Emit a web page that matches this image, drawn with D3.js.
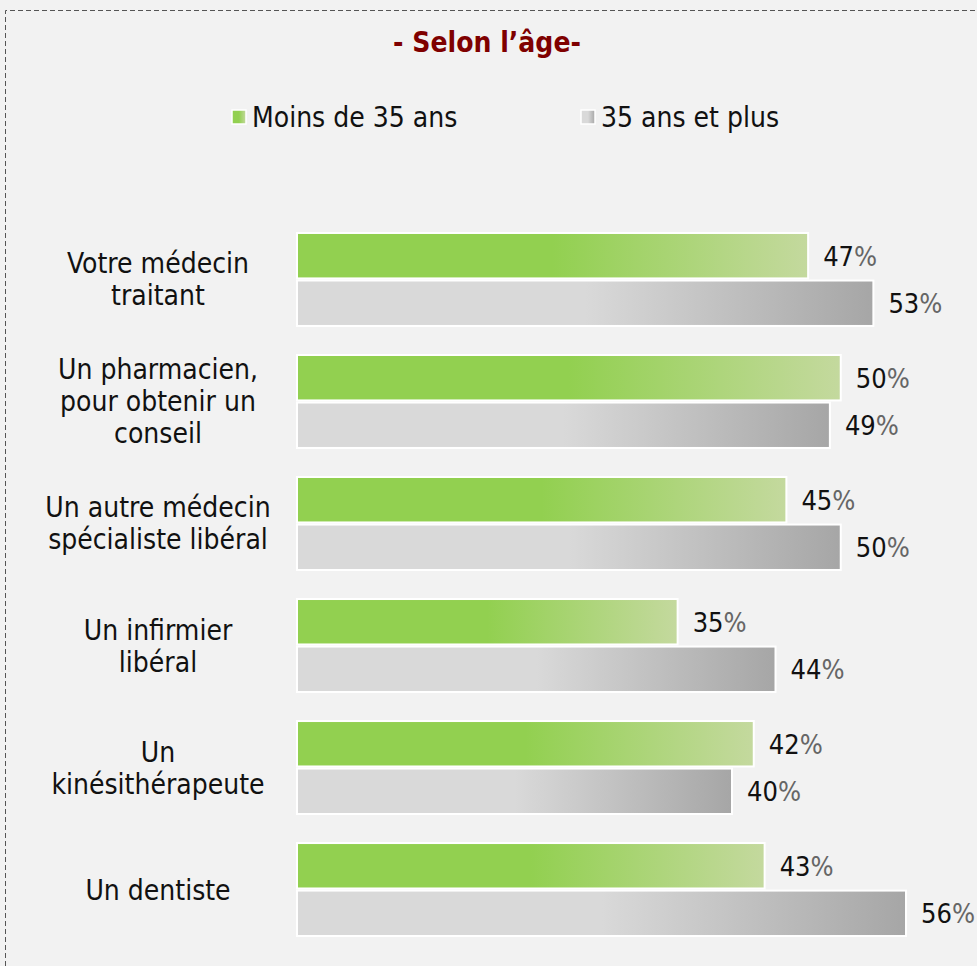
<!DOCTYPE html>
<html><head><meta charset="utf-8">
<script src="https://cdn.jsdelivr.net/npm/d3@7"></script>
<style>body{margin:0;background:#fff;}</style>
</head><body>
<script>
const categories = [
  ["Votre médecin","traitant"],
  ["Un pharmacien,","pour obtenir un","conseil"],
  ["Un autre médecin","spécialiste libéral"],
  ["Un infirmier","libéral"],
  ["Un","kinésithérapeute"],
  ["Un dentiste"]
];
const seriesNames = ["Moins de 35 ans","35 ans et plus"];
const under35 = [47,50,45,35,42,43];
const over35 = [53,49,50,44,40,56];

const W=977,H=966;
const font="'DejaVu Sans Condensed','DejaVu Sans',sans-serif";
const svg=d3.select("body").append("svg").attr("width",W).attr("height",H);
svg.append("rect").attr("width",W).attr("height",H).attr("fill","#f2f2f2");
svg.append("path").attr("d",`M5.5,${H} V10.5 H${W}`).attr("fill","none")
  .attr("stroke","#555").attr("stroke-width",1).attr("stroke-dasharray","5,3");

const defs=svg.append("defs");
function grad(id,c1,c2){
  const g=defs.append("linearGradient").attr("id",id).attr("x1","0").attr("x2","1").attr("y1","0").attr("y2","0");
  g.append("stop").attr("offset","0").attr("stop-color",c1);
  g.append("stop").attr("offset","0.5").attr("stop-color",c1);
  g.append("stop").attr("offset","1").attr("stop-color",c2);
}
grad("gG","#92d050","#c4d99e");
grad("gR","#d9d9d9","#a6a6a6");
const fills=["url(#gG)","url(#gR)"];

svg.append("text").attr("x",487).attr("y",52).attr("text-anchor","middle")
  .attr("font-family",font).attr("font-weight","bold").attr("font-size",28)
  .attr("fill","#7f0000").text("- Selon l’âge-");

// legend
const legX=[232,581];
seriesNames.forEach((n,i)=>{
  svg.append("rect").attr("x",legX[i]).attr("y",110).attr("width",14).attr("height",14)
    .attr("fill",fills[i]).attr("stroke","#fff").attr("stroke-width",1.5);
  svg.append("text").attr("x",legX[i]+20).attr("y",127).attr("font-family",font)
    .attr("font-size",28).attr("fill","#111").text(n);
});

const x=d3.scaleLinear().domain([0,56]).range([297,906]);
const y=d3.scaleBand().domain(d3.range(categories.length)).range([222,947]).paddingInner(0.238).paddingOuter(0.09);
const sub=d3.scaleBand().domain([0,1]).range([0,y.bandwidth()]).paddingInner(0.044);

categories.forEach((c,i)=>{
  const vals=[under35[i],over35[i]];
  vals.forEach((v,s)=>{
    const by=y(i)+sub(s);
    svg.append("rect").attr("x",x(0)).attr("y",by).attr("width",x(v)-x(0)).attr("height",sub.bandwidth())
      .attr("fill",fills[s]).attr("stroke","#fff").attr("stroke-width",2);
    const t=svg.append("text").attr("x",x(v)+15).attr("y",by+sub.bandwidth()/2+10)
      .attr("font-family",font).attr("font-size",27).attr("fill","#111");
    t.append("tspan").text(v);
    t.append("tspan").attr("fill","#666").attr("font-weight","300").text("%");
  });
  const cy=y(i)+y.bandwidth()/2;
  const lh=32;
  const t=svg.append("text").attr("font-family",font).attr("font-size",28).attr("fill","#111").attr("text-anchor","middle");
  c.forEach((line,j)=>{
    t.append("tspan").attr("x",158).attr("y",cy+10+(j-(c.length-1)/2)*lh).text(line);
  });
});
</script>
</body></html>
